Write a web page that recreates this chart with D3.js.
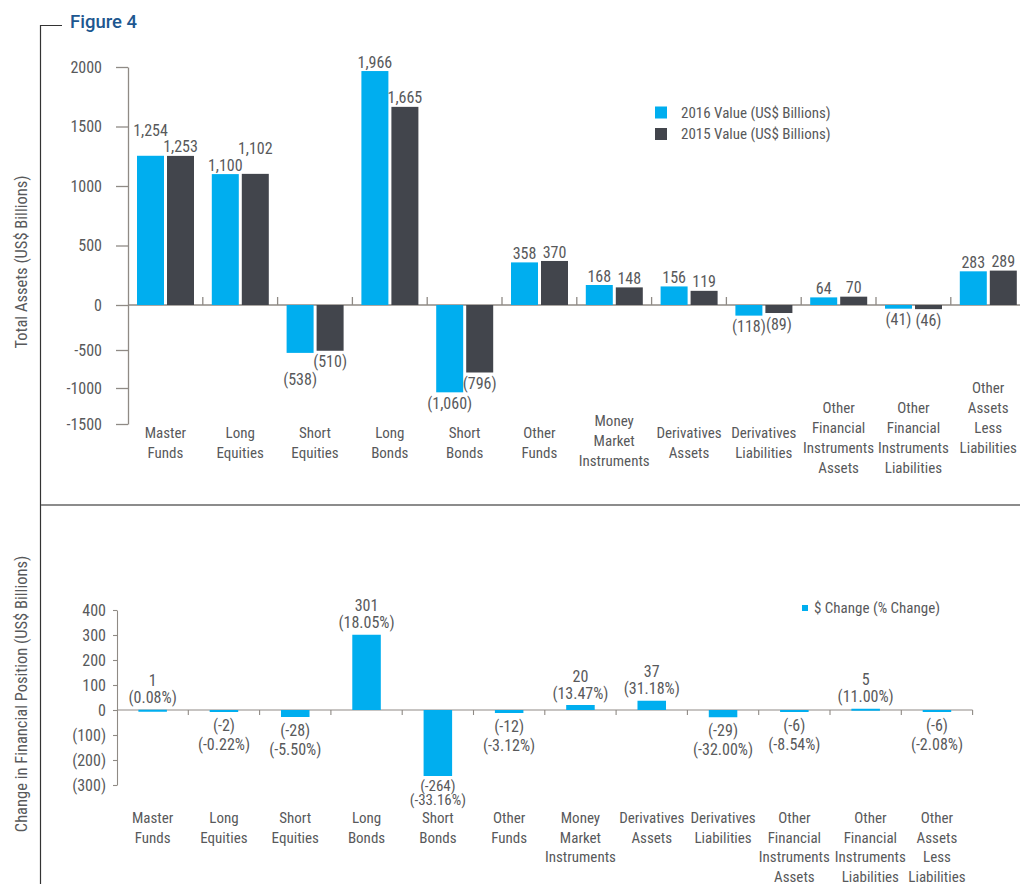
<!DOCTYPE html>
<html>
<head>
<meta charset="utf-8">
<script src="https://cdn.jsdelivr.net/npm/d3@7"></script>
<style>
  body { margin: 0; background: #fff; }
  svg text { font-family: "Liberation Sans Narrow", "Roboto Condensed", "DejaVu Sans Condensed", sans-serif; fill: #58595b; font-size: 16px; }
  svg text.cat, svg text.leg { font-size: 15px; }
</style>
</head>
<body>
<svg id="chart" width="1020" height="884"></svg>
<script>
// data
const categories = ["Master Funds", "Long Equities", "Short Equities", "Long Bonds", "Short Bonds", "Other Funds",
  "Money Market Instruments", "Derivatives Assets", "Derivatives Liabilities",
  "Other Financial Instruments Assets", "Other Financial Instruments Liabilities", "Other Assets Less Liabilities"];
const values2016 = [1254, 1100, -538, 1966, -1060, 358, 168, 156, -118, 64, -41, 283];
const values2015 = [1253, 1102, -510, 1665, -796, 370, 148, 119, -89, 70, -46, 289];
const changeValues = [1, -2, -28, 301, -264, -12, 20, 37, -29, -6, 5, -6];
const changePct = [0.08, -0.22, -5.50, 18.05, -33.16, -3.12, 13.47, 31.18, -32.00, -8.54, 11.00, -2.08];
const topTicks = [-1500, -1000, -500, 0, 500, 1000, 1500, 2000];
const bottomTicks = [-300, -200, -100, 0, 100, 200, 300, 400];
const seriesKeys = ["2016", "2015"];
const seriesNames = ["2016 Value (US$ Billions)", "2015 Value (US$ Billions)"];
const changeLegend = "$ Change (% Change)";

const blue = "#00aeef", dark = "#42454c", axisColor = "#8f8a85";
const svg = d3.select("#chart");
const fmt = d3.format(",");
const pct = p => "(" + d3.format(".2f")(p).replace("−", "-") + "%)";

// frame + title
svg.append("path").attr("d", "M62,25.5H40.5V884").attr("fill", "none").attr("stroke", "#333").attr("stroke-width", 1.2);
svg.append("text").attr("x", 70).attr("y", 28).text("Figure 4")
  .style("font-family", "Roboto, 'Liberation Sans', sans-serif").style("font-weight", 500)
  .style("font-size", "18.5px").style("fill", "#1d5790");
svg.append("line").attr("x1", 41).attr("x2", 1020).attr("y1", 505).attr("y2", 505)
  .attr("stroke", "#8c8c8c").attr("stroke-width", 2);

// ---------- top chart ----------
const x0 = d3.scaleBand().domain(categories).range([128, 128 + 12 * 74.8]);
const x1 = d3.scaleBand().domain(seriesKeys).range([9, 66]).paddingInner(0.1);
// the printed axis is not evenly spaced below zero
const y = d3.scaleLinear().domain([-1500, -1000, -500, 0, 2000]).range([424, 388, 350, 305, 67]);

const gTop = svg.append("g");
const yAxis = gTop.append("g").attr("transform", "translate(128,0)")
  .call(d3.axisLeft(y).tickValues(topTicks).tickSize(12).tickPadding(14).tickSizeOuter(0).tickFormat(d => d));
yAxis.selectAll("path, line").attr("stroke", axisColor).attr("stroke-width", 1.3);
yAxis.selectAll("text").style("font-size", "16px").attr("fill", null);

gTop.append("line").attr("x1", 128).attr("x2", 1020).attr("y1", y(0)).attr("y2", y(0))
  .attr("stroke", axisColor).attr("stroke-width", 1.5);
gTop.selectAll(".ctick").data(d3.range(1, 13)).join("line")
  .attr("x1", i => x0.range()[0] + i * x0.step()).attr("x2", i => x0.range()[0] + i * x0.step())
  .attr("y1", y(0) - 8).attr("y2", y(0)).attr("stroke", axisColor).attr("stroke-width", 1.3);

const pairs = categories.map((c, i) => ({ c, vals: [values2016[i], values2015[i]] }));
const groups = gTop.selectAll(".grp").data(pairs).join("g").attr("transform", d => `translate(${x0(d.c)},0)`);
groups.selectAll("rect").data(d => d.vals.map((v, k) => ({ v, k }))).join("rect")
  .attr("x", d => x1(seriesKeys[d.k])).attr("width", x1.bandwidth())
  .attr("y", d => Math.min(y(d.v), y(0))).attr("height", d => Math.abs(y(d.v) - y(0)))
  .attr("fill", d => d.k === 0 ? blue : dark);

groups.each(function (d) {
  const g = d3.select(this);
  const items = d.vals.map((v, k) => ({
    v, k,
    cx: x1(seriesKeys[k]) + x1.bandwidth() / 2,
    cy: v >= 0 ? y(v) - 9 : y(v) + 11,
    label: v >= 0 ? fmt(v) : "(" + fmt(-v) + ")"
  }));
  const texts = g.selectAll("text.val").data(items).join("text").attr("class", "val")
    .attr("text-anchor", "middle").attr("dy", "0.35em").attr("x", e => e.cx).text(e => e.label);
  const w = [];
  texts.each(function () { w.push(this.getComputedTextLength()); });
  const gap = items[1].cx - items[0].cx;
  // nudge the longer bar's label away when the two labels would collide
  if ((w[0] + w[1]) / 2 > gap + 0.5 && Math.abs(items[0].cy - items[1].cy) < 16) {
    const big = Math.abs(items[0].v) >= Math.abs(items[1].v) ? 0 : 1;
    items[big].cy += items[big].v >= 0 ? -16 : 16;
  }
  texts.attr("y", e => e.cy);
});

gTop.selectAll(".clab").data(categories).join("text").attr("class", "cat")
  .attr("text-anchor", "middle")
  .each(function (c, i) {
    const words = c.split(" ");
    let first = 433 - (words.length - 2) * 12.5;
    if (i === categories.length - 1) first -= 20;
    d3.select(this).selectAll("tspan").data(words).join("tspan")
      .attr("x", x0(c) + x0.bandwidth() / 2).attr("y", (w, j) => first + j * 20).attr("dy", "0.35em").text(w => w);
  });

svg.append("text").attr("transform", "translate(21,262) rotate(-90)").attr("text-anchor", "middle")
  .attr("dy", "0.35em").style("font-size", "16.5px").text("Total Assets (US$ Billions)");

const legTop = svg.append("g");
legTop.selectAll("rect").data(seriesNames).join("rect")
  .attr("x", 655).attr("y", (d, i) => 106.5 + i * 21.5).attr("width", 12).attr("height", 12)
  .attr("fill", (d, i) => i === 0 ? blue : dark);
legTop.selectAll("text").data(seriesNames).join("text").attr("class", "leg")
  .attr("x", 681).attr("y", (d, i) => 112.5 + i * 21.5).attr("dy", "0.35em").text(d => d);

// ---------- bottom chart ----------
const xb = d3.scaleBand().domain(categories).range([117, 117 + 12 * 71.3]).paddingInner(0.6).paddingOuter(0.3);
const yb = d3.scaleLinear().domain([-300, 400]).range([785, 610]);

const gBot = svg.append("g");
const ybAxis = gBot.append("g").attr("transform", "translate(117,0)")
  .call(d3.axisLeft(yb).tickValues(bottomTicks).tickSize(4).tickPadding(7).tickSizeOuter(0)
    .tickFormat(d => d < 0 ? "(" + (-d) + ")" : d));
ybAxis.selectAll("path, line").attr("stroke", axisColor).attr("stroke-width", 1.1);
ybAxis.selectAll("text").style("font-size", "16px").attr("fill", null);

gBot.append("line").attr("x1", 117).attr("x2", xb.range()[1]).attr("y1", yb(0)).attr("y2", yb(0))
  .attr("stroke", axisColor).attr("stroke-width", 1.2);
gBot.selectAll(".ctick").data(d3.range(1, 13)).join("line")
  .attr("x1", i => xb.range()[0] + i * xb.step()).attr("x2", i => xb.range()[0] + i * xb.step())
  .attr("y1", yb(0)).attr("y2", yb(0) + 5).attr("stroke", axisColor).attr("stroke-width", 1.1);

const changes = categories.map((c, i) => ({ c, v: changeValues[i], p: changePct[i] }));
gBot.selectAll(".bar").data(changes).join("rect")
  .attr("x", d => xb(d.c)).attr("width", xb.bandwidth())
  .attr("y", d => Math.min(yb(d.v), yb(0))).attr("height", d => Math.max(2, Math.abs(yb(d.v) - yb(0))))
  .attr("fill", blue);

gBot.selectAll(".chg").data(changes).join("text")
  .attr("text-anchor", "middle")
  .each(function (d) {
    const lines = d.v >= 0 ? [String(d.v), pct(d.p)] : ["(" + String(d.v) + ")", pct(d.p)];
    const cx = xb(d.c) + xb.bandwidth() / 2;
    let ys;
    const t = d3.select(this);
    if (d.v >= 0) {
      ys = [yb(d.v) - 29, yb(d.v) - 12];
    } else {
      const below = Math.max(yb(d.v), yb(0) + 2);
      if (below > 740) {
        // long bar: squeeze the label in above the category names
        ys = [below + 10, below + 24];
        t.style("font-size", "15px");
      } else {
        ys = [below + 13, below + 32];
      }
    }
    t.selectAll("tspan").data(lines).join("tspan")
      .attr("x", cx).attr("y", (l, j) => ys[j]).attr("dy", "0.35em").text(l => l);
  });

const botLabels = gBot.selectAll(".clab").data(categories).join("text").attr("class", "cat")
  .attr("text-anchor", "middle")
  .each(function (c) {
    d3.select(this).selectAll("tspan").data(c.split(" ")).join("tspan")
      .attr("x", xb(c) + xb.bandwidth() / 2).attr("y", (w, j) => 818 + j * 19.6).attr("dy", "0.35em").text(w => w);
  });

// keep neighbouring multi-line labels from running into each other
let prev = null;
botLabels.each(function (c) {
  const cx = xb(c) + xb.bandwidth() / 2;
  const widths = [];
  d3.select(this).selectAll("tspan").each(function () { widths.push(this.getComputedTextLength()); });
  let shift = 0;
  if (prev) {
    widths.forEach((w, j) => {
      if (prev.widths[j] !== undefined) {
        shift = Math.max(shift, prev.cx + prev.widths[j] / 2 + 5 - (cx - w / 2));
      }
    });
  }
  const nx = cx + shift;
  d3.select(this).selectAll("tspan").attr("x", nx);
  prev = { cx: nx, widths };
});

svg.append("text").attr("transform", "translate(21,694) rotate(-90)").attr("text-anchor", "middle")
  .attr("dy", "0.35em").style("font-size", "16.5px").text("Change in Financial Position (US$ Billions)");

svg.append("rect").attr("x", 802).attr("y", 605).attr("width", 6).attr("height", 6).attr("fill", blue);
svg.append("text").attr("class", "leg").attr("x", 814).attr("y", 608).attr("dy", "0.35em").text(changeLegend);
</script>
</body>
</html>
